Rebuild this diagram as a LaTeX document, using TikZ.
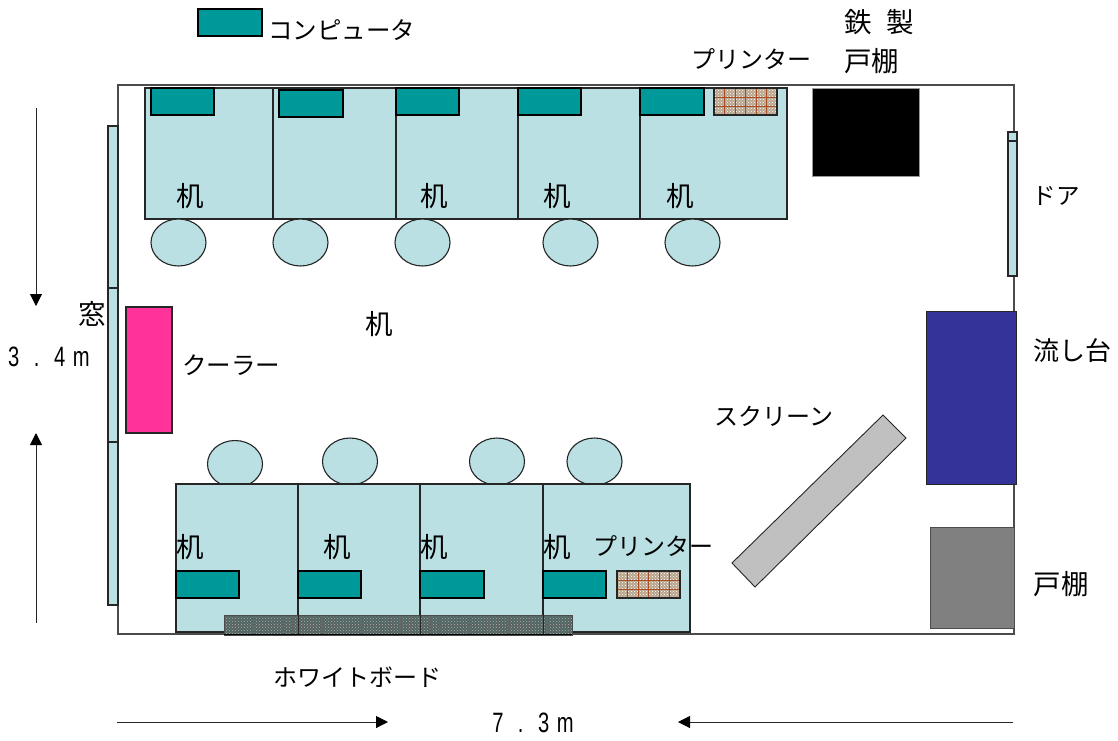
\documentclass[tikz,border=0pt]{standalone}
\usepackage{fontspec}
\usetikzlibrary{arrows.meta,patterns,shapes.geometric}
\setmainfont{Noto Sans CJK JP}
\newfontfamily\latinlab{Liberation Sans}
\definecolor{deskc}{HTML}{BAE0E3}
\definecolor{compc}{HTML}{009999}
\definecolor{coolc}{HTML}{FF3399}
\definecolor{sinkc}{HTML}{333399}
\definecolor{cabc}{HTML}{808080}
\definecolor{scrc}{HTML}{C0C0C0}
\definecolor{prtc}{HTML}{B9A48E}
\definecolor{prtl}{HTML}{A84E22}
\definecolor{wbc}{HTML}{4F6361}
\tikzset{
 x=1pt,y=-1pt,
 lab/.style={inner sep=0pt,anchor=center,font=\fontsize{24.5}{25}\selectfont},
 kan/.style={inner sep=0pt,anchor=center,font=\fontsize{27.5}{28}\selectfont},
 lat/.style={inner sep=0pt,anchor=center,xscale=.72,font=\fontsize{28}{28}\selectfont\latinlab},
 room/.style={draw=black!70,line width=1.4pt},
 box/.style={draw=black!85,line width=1.1pt},
 desk/.style={box,fill=deskc},
 comp/.style={draw=black,line width=1.1pt,fill=compc},
 stool/.style={box,fill=deskc},
 dim/.style={draw=black!85,line width=1pt,-{Triangle[length=12pt,width=12pt,color=black]}},
}
\newcommand{\rbox}[5]{\draw[#1] (#3,#4) rectangle (#5) node[pos=.5,inner sep=0pt,minimum size=0pt] (#2) {};}
\newcommand{\printer}[5]{%
 \fill[prtc] (#2,#3) rectangle (#4,#5);
 \fill[pattern=crosshatch dots,pattern color=white] (#2,#3) rectangle (#4,#5);
 \foreach \k in {1,...,5}{\draw[prtl,line width=.5pt] ({#2+\k*10.5},#3) -- ({#2+\k*10.5},#5);}
 \foreach \k in {1,2}{\draw[prtl,line width=.5pt] (#2,{#3+\k*9}) -- (#4,{#3+\k*9});}
 \draw[draw=black!85,line width=1.1pt] (#2,#3) rectangle (#4,#5) node[pos=.5,inner sep=0pt] (#1) {};}
\begin{document}
\begin{tikzpicture}
\useasboundingbox (0,0) rectangle (1118,740);
% room
\rbox{room}{roomc}{118}{85}{1014,634}
% window
\rbox{desk}{wa}{108}{126}{118,288}
\rbox{desk}{wb}{108}{288}{118,442}
\rbox{desk}{wc}{108}{442}{118,605}
% top desks
\rbox{desk}{d1}{145}{88}{273,219}
\rbox{desk}{d2}{273}{88}{396,219}
\rbox{desk}{d3}{396}{88}{518,219}
\rbox{desk}{d4}{518}{88}{640,219}
\rbox{desk}{d5}{640}{88}{787,219}
\rbox{comp}{c1}{151}{88}{214,115}
\rbox{comp}{c2}{279}{90}{343,117}
\rbox{comp}{c3}{396}{88}{459,115}
\rbox{comp}{c4}{518}{88}{581,115}
\rbox{comp}{c5}{640}{88}{704,115}
\printer{p1}{714}{88}{777}{115}
\rbox{draw=black!40,line width=.6pt,fill=black}{ironcab}{812}{88}{919.5,176}
% door
\rbox{box,fill=deskc}{doort}{1008}{132}{1017,141}
\rbox{box,fill=deskc}{door}{1008}{141}{1017,276}
% stools
\foreach \n/\cx/\cy in {s1/178.5/242.5,s2/300.5/242.5,s3/422.5/242.5,s4/570.5/242.5,s5/692.5/242.5,s6/235/464,s7/350/461.5,s8/497/461.5,s9/594.5/461.5}
 {\node[stool,ellipse,minimum width=55pt,minimum height=47pt,inner sep=0pt] (\n) at (\cx,\cy) {};}
% bottom desks
\rbox{desk}{d6}{176}{484}{298,632}
\rbox{desk}{d7}{298}{484}{420,632}
\rbox{desk}{d8}{420}{484}{543,632}
\rbox{desk}{d9}{543}{484}{690,632}
\rbox{comp}{c6}{176}{571}{239,598}
\rbox{comp}{c7}{298}{571}{361,598}
\rbox{comp}{c8}{420}{571}{484,598}
\rbox{comp}{c9}{543}{571}{606,598}
\printer{p2}{617}{571}{680}{598}
% whiteboard
\fill[wbc] (224,615) rectangle (572,635);
\fill[pattern=crosshatch dots,pattern color=white!70!black] (224,615) rectangle (572,635);
\foreach \k in {1,...,35}{\draw[black!60,line width=.5pt] ({224+\k*9.8},615) -- ({224+\k*9.8},635);}
\draw[black!60,line width=.5pt] (224,625) -- (572,625);
\draw[draw=black!70,line width=.9pt] (224,615) rectangle (572,635) node[pos=.5,inner sep=0pt] (wbd) {};
\draw[black,line width=1.4pt] (224,634.5) -- (572,634.5);
\foreach \cx in {298,420,543}{\draw[black!85,line width=1pt] (\cx,615) -- (\cx,634);}
% cooler, sink, cabinet
\rbox{box,fill=coolc}{cool}{126}{307}{172,433}
\rbox{draw=black!85,line width=.9pt,fill=sinkc}{sink}{926}{311}{1016,484}
\rbox{draw=black!70,line width=.8pt,fill=cabc}{cab}{930}{527}{1014,628}
% screen
\draw[draw=black!85,line width=.9pt,fill=scrc] (883,415) -- (906,438) -- (755,587) -- (732,563) -- cycle;
% legend
\rbox{comp}{legend}{198}{9}{262,36}
% labels
\node[lab,anchor=west] (tcomp) at (268,30) {コンピュータ};
\node[kan,anchor=west] (ttetsu) at (844,22) {鉄\hspace{0.55em}製};
\node[kan,anchor=west] (tto1) at (844,61) {戸棚};
\node[lab] (tp1) at (751,59) {\fontsize{24}{24}\selectfont プリンター};
\node[lab] (tdoor) at (1056,196) {\fontsize{23.5}{24}\selectfont ドア};
\node[kan] (tsink) at (1072,351) {\fontsize{26}{26}\selectfont 流し台};
\node[kan] (tto2) at (1061,584) {戸棚};
\node[lab] (tscr) at (774,416) {\fontsize{24}{24}\selectfont スクリーン};
\node[lab] (tcool) at (231,365) {クーラー};
\node[kan] (twin) at (92,314) {窓};
\node[lab] (tp2) at (653,546) {\fontsize{24}{24}\selectfont プリンター};
\node[lab] (twb) at (357.5,677) {\fontsize{24}{24}\selectfont ホワイトボード};
\foreach \n/\cx/\cy in {k1/190/196,k2/434.5/196,k3/557/196,k4/680/196,k5/379/324,k6/190/547,k7/337/547,k8/434.5/547,k9/557/547}
 {\node[kan] (\n) at (\cx,\cy) {机};}
\node[lat] (th) at (49,357) {3\hspace{.72em}.\hspace{.72em}4\hspace{.38em}m};
\node[lat] (tw) at (533,723) {7\hspace{.72em}.\hspace{.72em}3\hspace{.38em}m};
% dimensions
\coordinate (a1) at (36,108); \coordinate (a2) at (36,306);
\coordinate (a3) at (36,623); \coordinate (a4) at (36,433);
\coordinate (a5) at (117,722); \coordinate (a6) at (388,722);
\coordinate (a7) at (1013,722); \coordinate (a8) at (678,722);
\draw[dim] (a1) -- (a2);
\draw[dim] (a3) -- (a4);
\draw[dim] (a5) -- (a6);
\draw[dim] (a7) -- (a8);
\end{tikzpicture}
\end{document}
